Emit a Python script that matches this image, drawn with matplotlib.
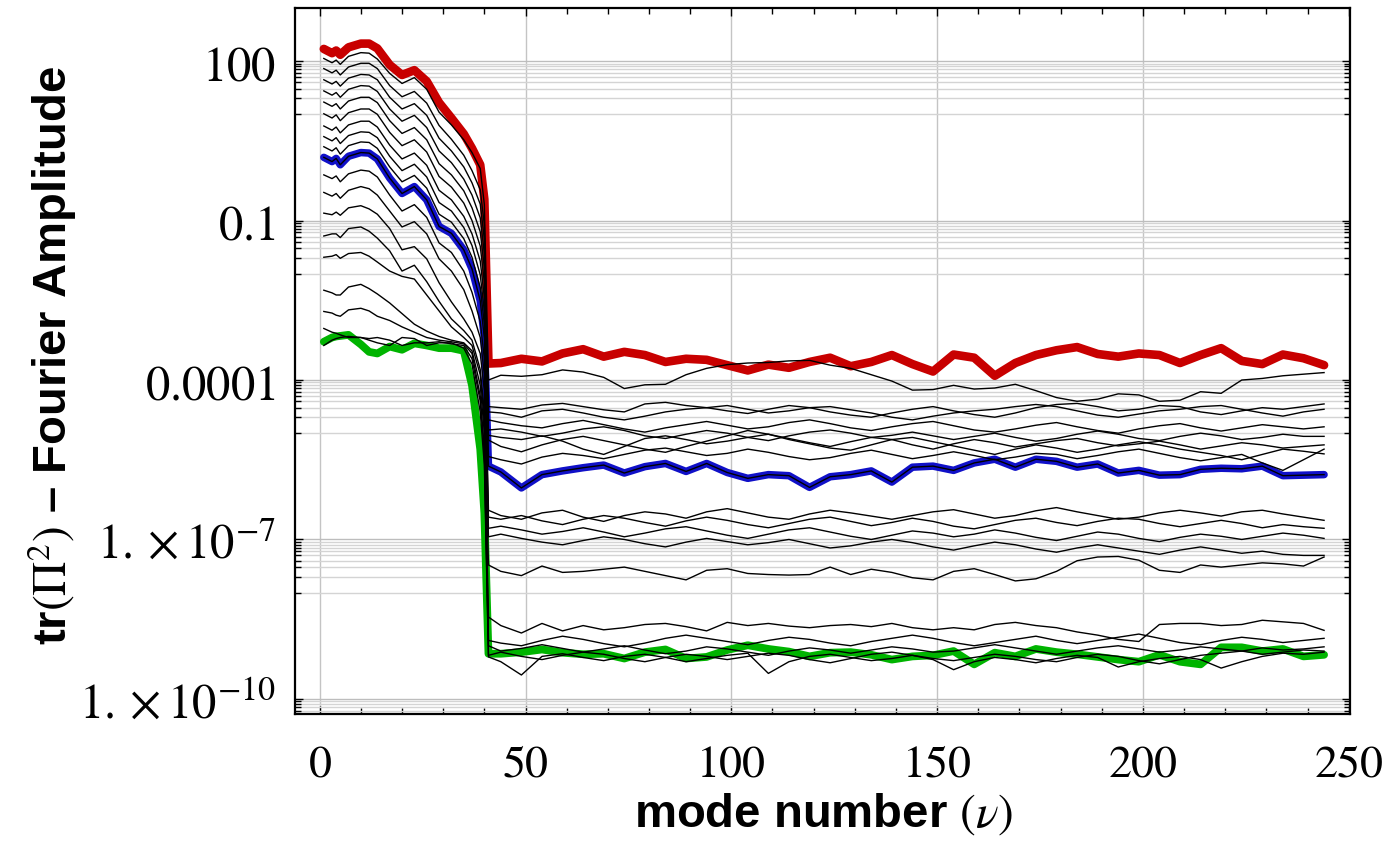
import numpy as np
import matplotlib
matplotlib.use("Agg")
import matplotlib.pyplot as plt
from matplotlib.ticker import FixedLocator, MultipleLocator, NullFormatter

plt.rcParams['mathtext.fontset'] = 'stix'

# mode numbers where values were read (left part: before the drop, right part: after it)
x_left = [1, 3, 4, 5, 7, 10, 12, 14, 17, 20, 23, 26, 29, 32, 35, 37, 39, 40]
x_right = [41] + list(range(44, 245, 5))

# all amplitudes below are log10 values
red_left = [2.23, 2.15, 2.20, 2.12, 2.26, 2.33, 2.33, 2.24, 1.93, 1.74, 1.83, 1.62, 1.22, 0.93, 0.63, 0.36, 0.05, -0.60]
red_right = [-3.69, -3.68, -3.60, -3.65, -3.50, -3.42, -3.56, -3.47, -3.53, -3.66, -3.60, -3.62, -3.72, -3.82,
             -3.71, -3.77, -3.66, -3.58, -3.74, -3.66, -3.53, -3.70, -3.84, -3.52, -3.58, -3.92, -3.68, -3.53,
             -3.44, -3.38, -3.51, -3.56, -3.50, -3.53, -3.68, -3.53, -3.40, -3.64, -3.70, -3.52, -3.59, -3.72]

blue_left = [0.19, 0.11, 0.17, 0.05, 0.21, 0.28, 0.27, 0.16, -0.20, -0.49, -0.36, -0.61, -1.11, -1.24, -1.55, -1.91, -2.51, -3.21]
blue_right = [-5.62, -5.73, -6.03, -5.78, -5.71, -5.65, -5.60, -5.75, -5.63, -5.57, -5.72, -5.57, -5.74, -5.85,
              -5.78, -5.80, -6.02, -5.82, -5.78, -5.71, -5.92, -5.64, -5.62, -5.70, -5.56, -5.49, -5.64, -5.49,
              -5.53, -5.64, -5.58, -5.75, -5.70, -5.79, -5.78, -5.68, -5.66, -5.67, -5.62, -5.80, -5.79, -5.78]

green_left = [-3.28, -3.20, -3.18, -3.17, -3.15, -3.33, -3.47, -3.50, -3.37, -3.43, -3.31, -3.35, -3.40, -3.40, -3.45, -4.10, -5.30, -6.50]
green_right = [-9.15, -9.15, -9.12, -9.07, -9.13, -9.16, -9.15, -9.24, -9.12, -9.07, -9.24, -9.21, -9.08, -8.99,
               -9.06, -9.11, -9.20, -9.13, -9.12, -9.17, -9.26, -9.20, -9.18, -9.10, -9.35, -9.13, -9.20, -9.06,
               -9.12, -9.16, -9.21, -9.26, -9.30, -9.17, -9.30, -9.35, -9.03, -9.03, -9.10, -9.06, -9.20, -9.17]

# thin black curves, left parts (top to bottom)
black_left = [
    [2.05, 1.97, 2.02, 1.94, 2.09, 2.16, 2.15, 2.04, 1.77, 1.58, 1.69, 1.47, 1.04, 0.80, 0.52, 0.28, -0.02, -0.70],
    [1.86, 1.78, 1.83, 1.74, 1.89, 1.96, 1.96, 1.86, 1.54, 1.33, 1.43, 1.21, 0.79, 0.53, 0.23, -0.06, -0.42, -1.08],
    [1.65, 1.57, 1.62, 1.53, 1.68, 1.75, 1.74, 1.65, 1.32, 1.10, 1.20, 0.98, 0.55, 0.31, 0.01, -0.29, -0.69, -1.35],
    [1.44, 1.36, 1.41, 1.32, 1.47, 1.54, 1.53, 1.43, 1.10, 0.87, 0.98, 0.75, 0.31, 0.09, -0.22, -0.52, -0.95, -1.62],
    [1.23, 1.15, 1.20, 1.10, 1.25, 1.32, 1.32, 1.22, 0.88, 0.64, 0.75, 0.52, 0.07, -0.14, -0.44, -0.76, -1.21, -1.89],
    [1.01, 0.93, 0.99, 0.88, 1.03, 1.10, 1.10, 1.00, 0.66, 0.41, 0.52, 0.29, -0.17, -0.37, -0.67, -1.00, -1.48, -2.16],
    [0.78, 0.70, 0.76, 0.65, 0.80, 0.87, 0.87, 0.76, 0.42, 0.16, 0.27, 0.04, -0.43, -0.61, -0.92, -1.25, -1.76, -2.45],
    [0.58, 0.50, 0.56, 0.45, 0.60, 0.67, 0.66, 0.56, 0.21, -0.06, 0.06, -0.18, -0.66, -0.82, -1.13, -1.47, -2.02, -2.71],
    [0.39, 0.31, 0.37, 0.25, 0.41, 0.48, 0.47, 0.36, 0.01, -0.27, -0.15, -0.39, -0.88, -1.03, -1.34, -1.69, -2.26, -2.95],
    [-0.14, -0.21, -0.16, -0.27, -0.12, -0.05, -0.07, -0.18, -0.52, -0.82, -0.70, -0.94, -1.42, -1.60, -1.95, -2.35, -2.90, -3.60],
    [-0.47, -0.54, -0.49, -0.58, -0.43, -0.36, -0.40, -0.52, -0.82, -1.12, -1.02, -1.25, -1.72, -1.95, -2.30, -2.70, -3.20, -3.90],
    [-0.86, -0.89, -0.84, -0.90, -0.76, -0.72, -0.78, -0.88, -1.15, -1.55, -1.49, -1.72, -2.17, -2.53, -2.85, -3.10, -3.50, -4.20],
    [-1.29, -1.25, -1.25, -1.32, -1.15, -1.12, -1.20, -1.33, -1.57, -1.95, -1.84, -2.15, -2.52, -2.85, -3.07, -3.25, -3.80, -4.60],
    [-1.69, -1.67, -1.64, -1.71, -1.62, -1.60, -1.67, -1.78, -1.95, -2.05, -2.10, -2.40, -2.70, -3.00, -3.20, -3.35, -3.90, -4.80],
    [-2.31, -2.36, -2.40, -2.40, -2.25, -2.20, -2.28, -2.38, -2.55, -2.75, -2.95, -3.08, -3.18, -3.25, -3.30, -3.45, -4.10, -5.00],
    [-2.71, -2.74, -2.78, -2.80, -2.68, -2.65, -2.70, -2.80, -2.88, -3.00, -3.10, -3.20, -3.25, -3.28, -3.32, -3.50, -4.30, -5.30],
    [-3.03, -3.10, -3.12, -3.15, -3.20, -3.20, -3.25, -3.30, -3.35, -3.20, -3.22, -3.35, -3.30, -3.30, -3.40, -3.70, -4.60, -5.60],
    [-3.35, -3.25, -3.22, -3.20, -3.18, -3.20, -3.22, -3.20, -3.25, -3.35, -3.30, -3.30, -3.28, -3.32, -3.35, -3.60, -4.40, -5.40],
]

# thin black curves, right parts (same order as black_left)
black_right = [
    [-4.00, -3.91, -3.93, -3.90, -3.81, -3.85, -3.95, -4.16, -4.09, -4.08, -3.90, -3.78, -3.71, -3.68, -3.67, -3.64, -3.63,
     -3.72, -3.78, -3.90, -4.02, -4.19, -4.18, -4.10, -4.17, -4.15, -4.08, -4.20, -4.33, -4.40, -4.36, -4.26, -4.28, -4.40,
     -4.38, -4.22, -4.25, -4.00, -3.97, -3.92, -3.89, -3.86],
    [-4.50, -4.52, -4.55, -4.47, -4.44, -4.50, -4.56, -4.60, -4.45, -4.42, -4.48, -4.52, -4.58, -4.63, -4.55, -4.48, -4.52,
     -4.60, -4.66, -4.70, -4.62, -4.55, -4.50, -4.58, -4.65, -4.70, -4.62, -4.52, -4.46, -4.44, -4.50, -4.58, -4.55, -4.48,
     -4.50, -4.60, -4.65, -4.58, -4.52, -4.55, -4.50, -4.45],
    [-4.60, -4.62, -4.70, -4.58, -4.55, -4.62, -4.70, -4.75, -4.68, -4.60, -4.55, -4.52, -4.48, -4.55, -4.62, -4.58, -4.52,
     -4.50, -4.56, -4.62, -4.70, -4.75, -4.68, -4.62, -4.58, -4.55, -4.50, -4.46, -4.50, -4.58, -4.66, -4.70, -4.64, -4.58,
     -4.55, -4.50, -4.48, -4.55, -4.62, -4.68, -4.60, -4.55],
    [-4.75, -4.80, -4.86, -4.90, -4.82, -4.76, -4.84, -4.92, -4.98, -4.90, -4.84, -4.78, -4.85, -4.92, -4.88, -4.80, -4.75,
     -4.82, -4.90, -4.95, -4.88, -4.82, -4.78, -4.86, -4.94, -4.98, -4.92, -4.85, -4.80, -4.88, -4.95, -5.00, -4.92, -4.86,
     -4.82, -4.90, -4.96, -4.90, -4.84, -4.88, -4.92, -4.88],
    [-4.94, -4.92, -4.98, -5.06, -5.00, -4.92, -4.88, -4.95, -5.05, -5.10, -5.02, -4.95, -5.00, -5.08, -5.14, -5.05, -4.98,
     -4.94, -5.00, -5.08, -5.04, -4.98, -5.05, -5.12, -5.06, -5.00, -5.08, -5.15, -5.10, -5.02, -4.96, -5.02, -5.10, -5.14,
     -5.06, -5.00, -5.05, -5.12, -5.08, -5.02, -5.06, -5.06],
    [-5.04, -5.08, -5.12, -5.05, -5.15, -5.30, -5.40, -5.25, -5.10, -5.05, -5.12, -5.20, -5.15, -5.08, -5.02, -5.10, -5.18,
     -5.25, -5.16, -5.08, -5.12, -5.22, -5.30, -5.20, -5.12, -5.18, -5.26, -5.20, -5.14, -5.10, -5.18, -5.24, -5.20, -5.15,
     -5.22, -5.30, -5.24, -5.18, -5.22, -5.28, -5.25, -5.22],
    [-5.13, -5.25, -5.35, -5.22, -5.12, -5.06, -5.14, -5.22, -5.30, -5.36, -5.25, -5.15, -5.05, -4.95, -5.02, -5.12, -5.20,
     -5.28, -5.32, -5.22, -5.12, -5.08, -5.16, -5.24, -5.32, -5.40, -5.30, -5.22, -5.28, -5.36, -5.30, -5.22, -5.16, -5.22,
     -5.30, -5.36, -5.42, -5.50, -5.40, -5.30, -5.34, -5.39],
    [-5.44, -5.50, -5.58, -5.45, -5.38, -5.42, -5.48, -5.40, -5.32, -5.28, -5.35, -5.42, -5.38, -5.30, -5.36, -5.44, -5.50,
     -5.46, -5.38, -5.32, -5.40, -5.48, -5.42, -5.35, -5.42, -5.50, -5.45, -5.38, -5.40, -5.48, -5.42, -5.35, -5.30, -5.38,
     -5.46, -5.52, -5.46, -5.40, -5.56, -5.70, -5.50, -5.30],
    [-6.45, -6.55, -6.62, -6.50, -6.45, -6.58, -6.66, -6.55, -6.48, -6.52, -6.60, -6.48, -6.42, -6.50, -6.58, -6.62, -6.52,
     -6.45, -6.50, -6.56, -6.62, -6.55, -6.48, -6.44, -6.52, -6.60, -6.55, -6.46, -6.40, -6.48, -6.55, -6.62, -6.58, -6.50,
     -6.45, -6.50, -6.56, -6.48, -6.45, -6.52, -6.58, -6.64],
    [-6.58, -6.62, -6.55, -6.65, -6.72, -6.62, -6.55, -6.60, -6.68, -6.75, -6.65, -6.58, -6.64, -6.72, -6.78, -6.70, -6.62,
     -6.58, -6.66, -6.74, -6.68, -6.60, -6.66, -6.75, -6.80, -6.72, -6.64, -6.60, -6.68, -6.74, -6.66, -6.60, -6.62, -6.70,
     -6.76, -6.70, -6.64, -6.70, -6.78, -6.72, -6.76, -6.79],
    [-6.79, -6.75, -6.82, -6.90, -6.85, -6.78, -6.86, -6.95, -6.88, -6.80, -6.76, -6.84, -6.92, -6.98, -6.90, -6.82, -6.78,
     -6.86, -6.94, -7.00, -6.92, -6.84, -6.88, -6.95, -6.90, -6.82, -6.88, -6.96, -7.02, -6.94, -6.86, -6.90, -6.98, -7.04,
     -6.96, -6.90, -6.94, -7.00, -6.94, -6.88, -6.92, -6.98],
    [-6.95, -6.90, -6.98, -7.05, -7.10, -7.02, -6.95, -7.00, -7.08, -7.14, -7.05, -6.98, -7.04, -7.10, -7.06, -7.00, -7.08,
     -7.16, -7.12, -7.05, -7.00, -7.06, -7.14, -7.20, -7.12, -7.05, -7.10, -7.18, -7.24, -7.16, -7.10, -7.16, -7.22, -7.28,
     -7.20, -7.14, -7.20, -7.26, -7.22, -7.28, -7.30, -7.30],
    [-7.48, -7.60, -7.68, -7.50, -7.62, -7.60, -7.56, -7.52, -7.60, -7.68, -7.76, -7.58, -7.55, -7.64, -7.66, -7.67, -7.66,
     -7.52, -7.66, -7.56, -7.62, -7.72, -7.76, -7.60, -7.55, -7.66, -7.78, -7.74, -7.60, -7.40, -7.33, -7.32, -7.39, -7.58,
     -7.62, -7.48, -7.52, -7.48, -7.44, -7.46, -7.50, -7.33],
    [-8.46, -8.62, -8.76, -8.58, -8.72, -8.62, -8.70, -8.66, -8.60, -8.58, -8.64, -8.72, -8.56, -8.62, -8.58, -8.63, -8.66,
     -8.62, -8.60, -8.64, -8.58, -8.66, -8.70, -8.66, -8.70, -8.60, -8.56, -8.62, -8.66, -8.74, -8.80, -8.88, -8.92, -8.60,
     -8.58, -8.58, -8.62, -8.60, -8.52, -8.55, -8.58, -8.71],
    [-8.90, -8.95, -9.00, -8.90, -8.82, -8.88, -8.96, -9.02, -8.95, -8.86, -8.80, -8.86, -8.92, -8.98, -8.90, -8.84, -8.88,
     -8.95, -9.00, -8.92, -8.86, -8.80, -8.86, -8.94, -9.00, -8.94, -8.88, -8.82, -8.90, -8.96, -8.90, -8.84, -8.78, -8.86,
     -8.94, -8.98, -8.90, -8.84, -8.88, -8.94, -8.90, -8.86],
    [-9.00, -9.10, -9.05, -8.98, -9.05, -9.12, -9.06, -9.00, -9.08, -9.15, -9.10, -9.02, -9.06, -9.12, -9.18, -9.10, -9.04,
     -9.08, -9.14, -9.08, -9.02, -9.06, -9.12, -9.10, -9.04, -8.98, -9.04, -9.10, -9.16, -9.10, -9.04, -9.00, -9.06, -9.12,
     -9.08, -9.02, -9.06, -9.10, -9.04, -9.08, -9.06, -9.02],
    [-9.21, -9.30, -9.55, -9.20, -9.15, -9.22, -9.28, -9.20, -9.16, -9.22, -9.30, -9.24, -9.18, -9.14, -9.52, -9.30, -9.20,
     -9.16, -9.22, -9.28, -9.24, -9.18, -9.26, -9.45, -9.30, -9.22, -9.26, -9.32, -9.24, -9.18, -9.22, -9.40, -9.30, -9.24,
     -9.20, -9.26, -9.42, -9.30, -9.20, -9.14, -9.16, -9.12],
    [-9.18, -9.12, -9.20, -9.26, -9.18, -9.12, -9.16, -9.24, -9.30, -9.22, -9.16, -9.20, -9.26, -9.20, -9.14, -9.18, -9.26,
     -9.32, -9.24, -9.16, -9.12, -9.18, -9.24, -9.28, -9.22, -9.16, -9.20, -9.26, -9.30, -9.22, -9.16, -9.20, -9.28, -9.34,
     -9.26, -9.18, -9.14, -9.10, -9.16, -9.12, -9.08, -9.10],
]

y_major = [1e-10, 1e-7, 1e-4, 0.1, 100]
y_labels = [r"$1.\times 10^{-10}$", r"$1.\times 10^{-7}$", r"$0.0001$", r"$0.1$", r"$100$"]
x_major = [0, 50, 100, 150, 200, 250]
x_labels = [r"$0$", r"$50$", r"$100$", r"$150$", r"$200$", r"$250$"]

xs = np.array(x_left + x_right)


def amp(left, right):
    return 10.0 ** np.array(left + right)


fig = plt.figure(figsize=(13.97, 8.44), dpi=100)
ax = fig.add_axes([295 / 1397, 1 - 714 / 844, 1055 / 1397, 706 / 844])
ax.set_yscale("log")

# highlighted curves first, thin black curves on top
ax.plot(xs, amp(red_left, red_right), color="#c80000", lw=6.2, solid_capstyle="round", solid_joinstyle="round", zorder=2)
ax.plot(xs, amp(green_left, green_right), color="#00b400", lw=5.6, solid_capstyle="round", solid_joinstyle="round", zorder=2)
ax.plot(xs, amp(blue_left, blue_right), color="#1010c8", lw=5.4, solid_capstyle="round", solid_joinstyle="round", zorder=2)
ax.plot(xs, amp(blue_left, blue_right), color="black", lw=1.0, zorder=3)
for left, right in zip(black_left, black_right):
    ax.plot(xs, amp(left, right), color="black", lw=1.0, zorder=3)

ax.set_xlim(-6, 250.3)
ax.set_ylim(5.2e-11, 1.0e3)

# ticks and grid
minor_y = [k * m / 10 for m in y_major for k in range(1, 10)]
ax.yaxis.set_major_locator(FixedLocator(y_major))
ax.set_yticklabels(y_labels)
ax.yaxis.set_minor_locator(FixedLocator(minor_y))
ax.yaxis.set_minor_formatter(NullFormatter())
ax.set_xticks(x_major)
ax.set_xticklabels(x_labels)
ax.xaxis.set_minor_locator(MultipleLocator(10))

ax.tick_params(which="both", direction="in", top=True, right=True, width=1.0, color="black")
ax.tick_params(which="major", length=6)
ax.tick_params(which="minor", length=4)
ax.tick_params(axis="y", which="major", pad=14, labelsize=35)
ax.tick_params(axis="x", which="major", pad=20, labelsize=33)

ax.grid(True, axis="x", which="major", color="#c4c4c4", lw=1.0)
ax.grid(True, axis="y", which="major", color="#bdbdbd", lw=1.0)
ax.grid(True, axis="y", which="minor", color="#d4d4d4", lw=1.0)
ax.set_axisbelow(True)
for s in ax.spines.values():
    s.set_linewidth(1.6)

fig.text(52 / 1397, 1 - 356 / 844, r"tr$(\Pi^2)$ – Fourier Amplitude", rotation=90, ha="center", va="center",
         fontsize=34, fontweight="bold", family="Liberation Sans")
fig.text(823 / 1397, 1 - 814 / 844, r"mode number $(\nu)$", ha="center", va="center",
         fontsize=34, fontweight="bold", family="Liberation Sans")

fig.savefig("out.png", dpi=100)
